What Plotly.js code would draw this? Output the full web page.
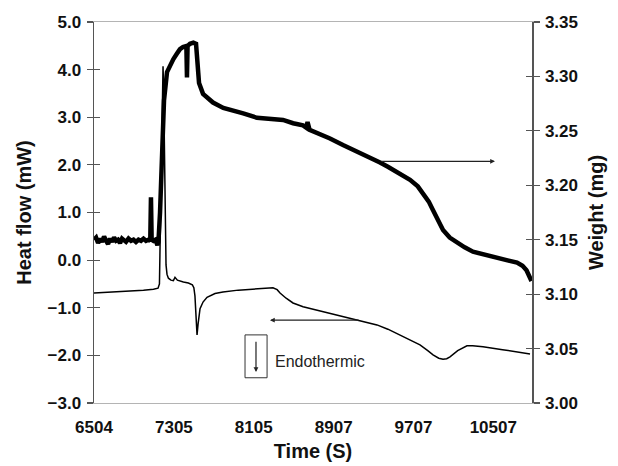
<!DOCTYPE html>
<html>
<head>
<meta charset="utf-8">
<script src="https://cdn.plot.ly/plotly-3.0.1.min.js"></script>
<style>html,body{margin:0;padding:0;background:#fff;}#chart{width:618px;height:466px;}</style>
</head>
<body>
<div id="chart"></div>
<script>
// Time axis tick labels (s)
var timeTicks = [6504, 7305, 8105, 8907, 9707, 10507];

// Weight (mg) – right axis
var weightTime = [6504,6525,6545,6565,6585,6605,6625,6645,6665,6685,6705,6725,6745,6765,6785,6805,6825,6850,6875,6900,6925,6950,6975,7000,7025,7050,7068,7075,7082,7100,7120,7140,7150,7166,7186,7206,7236,7266,7300,7336,7366,7396,7430,7436,7442,7466,7500,7527,7537,7557,7597,7650,7697,7800,7897,8000,8138,8250,8399,8500,8599,8630,8645,8665,8750,8870,9000,9070,9201,9300,9371,9450,9522,9600,9672,9750,9802,9860,9903,9950,10003,10070,10143,10220,10303,10420,10544,10650,10745,10800,10840,10875,10890];
var weightVal = [3.150,3.152,3.147,3.151,3.148,3.153,3.149,3.146,3.151,3.148,3.152,3.149,3.150,3.147,3.151,3.150,3.148,3.151,3.149,3.150,3.148,3.150,3.149,3.151,3.149,3.150,3.149,3.189,3.150,3.149,3.150,3.145,3.148,3.175,3.217,3.278,3.304,3.310,3.316,3.321,3.325,3.327,3.328,3.299,3.328,3.330,3.331,3.330,3.315,3.294,3.284,3.279,3.276,3.271,3.269,3.266,3.262,3.261,3.260,3.257,3.255,3.253,3.258,3.251,3.248,3.243,3.237,3.234,3.229,3.224,3.221,3.217,3.213,3.209,3.205,3.199,3.193,3.185,3.177,3.168,3.159,3.152,3.147,3.143,3.139,3.136,3.133,3.131,3.129,3.126,3.122,3.116,3.112];

// Heat flow (mW) – left axis
var heatTime = [6504,6800,7000,7100,7146,7160,7170,7180,7190,7196,7202,7210,7218,7226,7236,7250,7275,7300,7316,7340,7400,7450,7490,7505,7516,7527,7537,7547,7557,7567,7597,7637,7717,7797,7950,8068,8200,8298,8340,8369,8430,8499,8600,8740,8900,9070,9200,9341,9450,9572,9680,9772,9850,9903,9960,10003,10040,10073,10150,10243,10300,10404,10600,10750,10875];
var heatVal = [-0.69,-0.66,-0.63,-0.61,-0.59,-0.50,0.8,2.6,3.9,4.07,3.6,2.2,0.8,-0.1,-0.30,-0.38,-0.42,-0.43,-0.36,-0.42,-0.46,-0.48,-0.52,-0.58,-0.75,-1.20,-1.57,-1.35,-1.12,-1.02,-0.88,-0.78,-0.70,-0.67,-0.63,-0.61,-0.60,-0.58,-0.62,-0.69,-0.80,-0.90,-0.98,-1.05,-1.13,-1.22,-1.28,-1.36,-1.45,-1.57,-1.68,-1.78,-1.90,-1.99,-2.06,-2.08,-2.07,-2.03,-1.90,-1.80,-1.80,-1.82,-1.88,-1.93,-1.97];

var FONT = 'Liberation Sans, Arial, sans-serif';

var traces = [
  {x: heatTime, y: heatVal, type: 'scatter', mode: 'lines', yaxis: 'y',
   line: {color: '#000', width: 1.5}, hoverinfo: 'skip'},
  {x: weightTime, y: weightVal, type: 'scatter', mode: 'lines', yaxis: 'y2',
   line: {color: '#000', width: 4.5}, hoverinfo: 'skip'},
  {x: [null], y: [null], yaxis: 'y3', type: 'scatter', mode: 'lines', hoverinfo: 'skip'},
  {x: [null], y: [null], yaxis: 'y4', type: 'scatter', mode: 'lines', hoverinfo: 'skip'}
];

var tickFont = {family: FONT, size: 17, color: '#111', weight: 'bold'};
var titleFont = {family: FONT, size: 20, color: '#111', weight: 'bold'};

var layout = {
  width: 618, height: 466,
  margin: {l: 94, r: 86, t: 21.5, b: 63},
  paper_bgcolor: '#fff', plot_bgcolor: '#fff',
  showlegend: false,
  xaxis: {
    range: [6504, 10895], tickmode: 'array', tickvals: timeTicks,
    ticktext: timeTicks.map(String), ticks: '', showgrid: false, zeroline: false,
    showline: true, linecolor: '#b4b4b4', linewidth: 1.2, mirror: true,
    tickfont: tickFont, ticklabelstandoff: 8,
    title: {text: 'Time (S)', font: titleFont, standoff: 8}
  },
  yaxis: {
    range: [-3, 5], dtick: 1, tickformat: '.1f', ticks: 'outside', ticklen: 6,
    tickcolor: '#555', tickwidth: 1.2, showgrid: false, zeroline: false,
    showline: true, linecolor: '#555', linewidth: 1.5, tickfont: tickFont,
    ticklabelstandoff: 2,
    title: {text: 'Heat flow (mW)', font: titleFont, standoff: 10}
  },
  yaxis3: {
    overlaying: 'y', side: 'left', range: [-3, 5], dtick: 1, ticks: 'inside',
    ticklen: 6, tickcolor: '#555', tickwidth: 1.2, showticklabels: false,
    showgrid: false, zeroline: false, showline: false
  },
  yaxis2: {
    overlaying: 'y', side: 'right', range: [3.0, 3.35], dtick: 0.05, tickformat: '.2f',
    ticks: 'outside', ticklen: 6, tickcolor: '#555', tickwidth: 1.2,
    showgrid: false, zeroline: false, showline: true, linecolor: '#555', linewidth: 1.5,
    tickfont: tickFont, ticklabelstandoff: 2,
    title: {text: 'Weight (mg)', font: titleFont, standoff: 12}
  },
  yaxis4: {
    overlaying: 'y', side: 'right', range: [3.0, 3.35], dtick: 0.05, ticks: 'inside',
    ticklen: 6, tickcolor: '#555', tickwidth: 1.2, showticklabels: false,
    showgrid: false, zeroline: false, showline: false
  },
  shapes: [
    {type: 'rect', xref: 'x', yref: 'y', x0: 8018, x1: 8239, y0: -1.57, y1: -2.47,
     line: {color: '#333', width: 1}}
  ],
  annotations: [
    {xref: 'x', yref: 'y2', axref: 'x', ayref: 'y2', x: 10524, y: 3.222, ax: 9371, ay: 3.222,
     text: '', showarrow: true, arrowhead: 2, arrowsize: 0.8, arrowwidth: 1.2, arrowcolor: '#222'},
    {xref: 'x', yref: 'y', axref: 'x', ayref: 'y', x: 8268, y: -1.26, ax: 9171, ay: -1.26,
     text: '', showarrow: true, arrowhead: 2, arrowsize: 0.8, arrowwidth: 1.2, arrowcolor: '#222'},
    {xref: 'x', yref: 'y', axref: 'x', ayref: 'y', x: 8128, y: -2.35, ax: 8128, ay: -1.68,
     text: '', showarrow: true, arrowhead: 2, arrowsize: 0.8, arrowwidth: 1.2, arrowcolor: '#222'},
    {xref: 'x', yref: 'y', x: 8298, y: -2.12, xanchor: 'left', yanchor: 'middle',
     text: 'Endothermic', showarrow: false, font: {family: FONT, size: 16, color: '#222'}}
  ]
};

Plotly.newPlot('chart', traces, layout, {staticPlot: true, displayModeBar: false});
</script>
</body>
</html>
